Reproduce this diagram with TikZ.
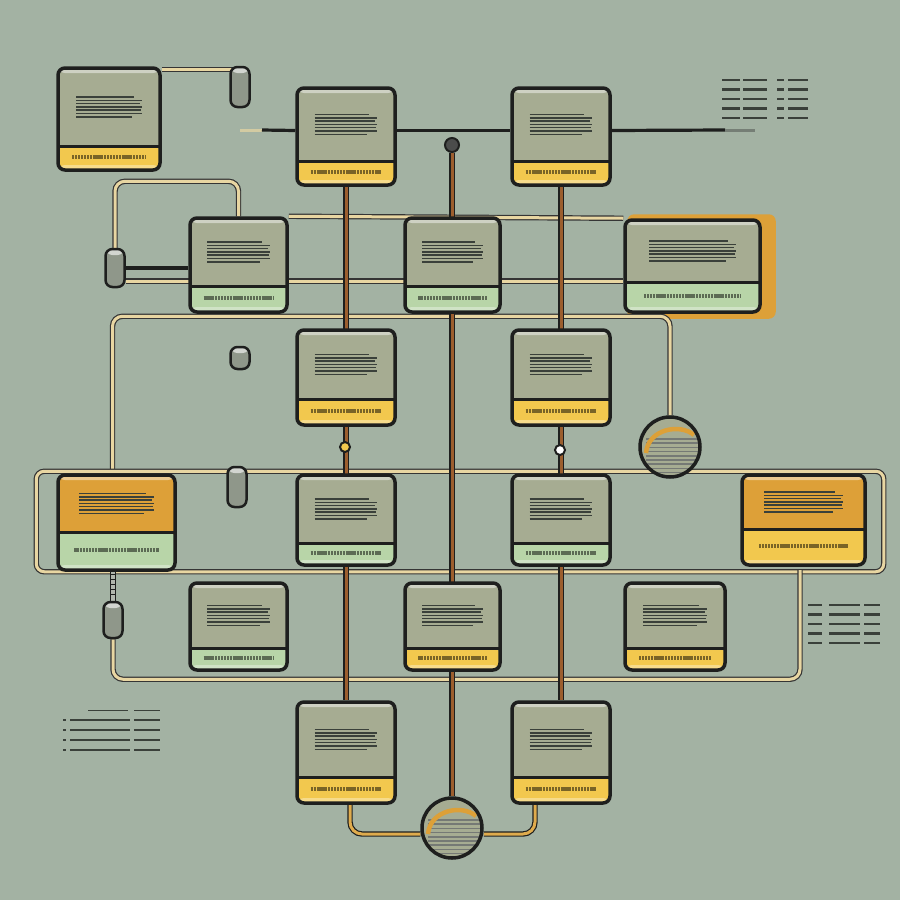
\documentclass[tikz,border=0pt]{standalone}
\usetikzlibrary{calc}

\definecolor{bgsage}{HTML}{A3B2A3}
\definecolor{cardbody}{HTML}{A6AC92}
\definecolor{cardedge}{HTML}{1E1F1E}
\definecolor{footyellow}{HTML}{F2C84E}
\definecolor{footgreen}{HTML}{B8D5A8}
\definecolor{toporange}{HTML}{DDA038}
\definecolor{wiretan}{HTML}{E8D6A2}
\definecolor{wirebrown}{HTML}{9C5E2E}
\definecolor{inkline}{HTML}{3A403A}
\definecolor{plugrey}{HTML}{8F978A}

\pgfdeclarelayer{bg}
\pgfdeclarelayer{wires}
\pgfsetlayers{bg,wires,main}

% name, x, y, width, height, body colour, footer colour, footer height
\newcommand{\card}[8]{%
  \node[card, fill=#6, minimum width=#4pt, minimum height=#5pt,
    path picture={
      \begin{scope}[shift={(path picture bounding box.center)}]
        \fill[#7] (-#4/2,#5/2) rectangle (#4/2,#5/2-#8);
        \fill[white, opacity=0.35] (-#4/2,#5/2-5) rectangle (#4/2,#5/2);
        \fill[white, opacity=0.45] (-#4/2,-#5/2) rectangle (#4/2,-#5/2+5);
        \draw[cardedge, line width=3pt] (-#4/2,#5/2-#8) -- (#4/2,#5/2-#8);
        \foreach \k/\cut in {0/8,1/0,2/2,3/0,4/1,5/0,6/10}
          \draw[inkline, line width=1.5pt] (-0.32*#4,-#8/2-10+3.3*\k) -- (0.32*#4-\cut,-#8/2-10+3.3*\k);
        \draw[#7!50!black, line width=3.4pt, dash pattern=on 2.2pt off 0.7pt]
          (-0.36*#4,#5/2-#8/2-1) -- (0.36*#4,#5/2-#8/2-1);
      \end{scope}}] (#1) at (#2,#3) {};}

\begin{document}
\begin{tikzpicture}[x=1pt,y=-1pt,
    card/.style={draw=cardedge, line width=3.5pt, rounded corners=7pt, inner sep=0pt},
    plug/.style={draw=cardedge, line width=2.5pt, fill=plugrey, rounded corners=7pt,
      minimum width=19pt, inner sep=0pt,
      path picture={\fill[white, opacity=0.6] (path picture bounding box.north west)
        rectangle ($(path picture bounding box.north east)+(0,6)$);}},
    bead/.style={circle, draw=cardedge, line width=2pt, minimum size=10pt, inner sep=0pt},
    gauge/.style={circle, draw=cardedge, line width=3.5pt, fill=cardbody, minimum size=60pt, inner sep=0pt,
      path picture={
        \begin{scope}[shift={(path picture bounding box.center)}]
          \foreach \k in {0,...,8}
            \draw[inkline!70, line width=1.5pt] (-24,-8+4.2*\k) -- (28,-8+4.2*\k);
          \draw[toporange, line width=4.5pt] (-24,6) .. controls (-22,-18) and (10,-24) .. (24,-12);
        \end{scope}}},
    wire/.style={draw=cardedge!90, double=wiretan, double distance=3pt, line width=1.2pt},
    owire/.style={draw=cardedge, double=toporange!80!wiretan, double distance=3pt, line width=1.2pt},
    rail/.style={draw=cardedge, double=wirebrown, double distance=3pt, line width=1.2pt},
    darkline/.style={draw=cardedge, line width=3.2pt},
    legendline/.style={inkline, line width=2.6pt}]
\useasboundingbox (0,0) rectangle (900,900);
\begin{pgfonlayer}{bg}
  \fill[bgsage] (0,0) rectangle (900,900);
\end{pgfonlayer}
%\draw [help lines] (0,0) grid[step=50] (900,900);

% cards
\card{a1}{109}{119}{102}{102}{cardbody}{footyellow}{24}
\card{a2}{346}{136.5}{98}{97}{cardbody}{footyellow}{24}
\card{a3}{561}{136.5}{98}{97}{cardbody}{footyellow}{24}
\card{b1}{238.5}{265}{97}{94}{cardbody}{footgreen}{26}
\card{b2}{452.5}{265}{95}{94}{cardbody}{footgreen}{26}
\card{b3}{692.5}{266}{135}{92}{cardbody}{footgreen}{30}
\card{c1}{346}{377.5}{98}{95}{cardbody}{footyellow}{26}
\card{c2}{561}{377.5}{98}{95}{cardbody}{footyellow}{26}
\card{d1}{116.5}{522.5}{117}{95}{toporange}{footgreen}{38}
\card{d2}{346}{520}{98}{90}{cardbody}{footgreen}{22}
\card{d3}{561}{520}{98}{90}{cardbody}{footgreen}{22}
\card{d4}{803.5}{520}{123}{90}{toporange}{footyellow}{36}
\card{e1}{238.5}{626.5}{97}{87}{cardbody}{footgreen}{22}
\card{e2}{452.5}{626.5}{95}{87}{cardbody}{footyellow}{22}
\card{e3}{675}{626.5}{100}{87}{cardbody}{footyellow}{22}
\card{f1}{346}{752.5}{98}{101}{cardbody}{footyellow}{26}
\card{f2}{561}{752.5}{98}{101}{cardbody}{footyellow}{26}

% plugs, gauges, beads
\node[plug, minimum height=40pt] (p1) at (240,87) {};
\node[plug, minimum height=38pt] (p2) at (115,268) {};
\node[plug, minimum height=22pt] (p3) at (240,358) {};
\node[plug, minimum height=40pt] (p4) at (237,487) {};
\node[plug, minimum height=36pt] (p5) at (113,620) {};
\node[gauge] (k1) at (670,447) {};
\node[gauge] (k2) at (452,828) {};
\node[bead, fill=cardedge!80, minimum size=14pt] (btop) at (452,145) {};
\node[bead, fill=footyellow] (bleft) at (345,447) {};
\node[bead, fill=white] (bright) at (560,450) {};
\coordinate (fadeL) at (262,130);
\coordinate (fadeR) at (725,130);
\coordinate (loopR) at (800,570);

\begin{pgfonlayer}{wires}
  % top bus
  \draw[wire] ([yshift=-4pt]a1.east |- p1.north) -- ([yshift=-4pt]p1.north);
  \draw[wiretan!70!bgsage, line width=3pt] ($(fadeL)+(-22,0)$) -- (fadeL);
  \draw[darkline] (fadeL) -- ([yshift=6pt]a2.west);
  \draw[darkline] ([yshift=6pt]a2.east) -- ([yshift=6pt]a3.west);
  \draw[darkline] ([yshift=6pt]a3.east) -- (fadeR);
  \draw[cardedge!35!bgsage, line width=3pt] (fadeR) -- ++(30,0);
  % row two
  \draw[wire, rounded corners=10pt] (b1.north) -- ++(0,-35) -| (p2.north);
  \draw[darkline] (p2.east) -- (p2.east -| b1.west);
  \draw[wire] ([yshift=-13pt]p2.east) -- ([yshift=-13pt]p2.east -| b3.west);
  \draw[wire] (b1.north east) -- (b3.north west);
  \fill[toporange, rounded corners=7pt] ($(b3.north west)+(4,-4)$) rectangle ($(b3.south east)+(14,5)$);
  % big loop
  \draw[wire, rounded corners=10pt] ([xshift=-4pt]d1.north) |- ($(k1.north)+(0,-99)$) -- (k1.north);
  % middle frame
  \draw[wire, rounded corners=8pt] ($(d1.north west)+(-20,-2)$) rectangle ($(d4.south east)+(17,5)$);
  % lower loop
  \draw[draw=cardedge, double=plugrey!70!white, double distance=4pt, line width=1.2pt] (p5.north) -- ++(0,-30);
  \foreach \t in {0,...,4}
    \draw[cardedge, line width=0.8pt] ($(p5.north)+(-3,-6-5*\t)$) -- ++(6,0);
  \draw[wire, rounded corners=10pt] (p5.south) -- ++(0,40) -| (loopR);
  % rails
  \draw[rail] (a2.south) -- (f1.north);
  \draw[rail] (a3.south) -- (f2.north);
  \draw[rail] (btop) -- (k2);
  % bottom
  \draw[owire, rounded corners=12pt] ([xshift=4pt]f1.south) |- ([yshift=-6pt]k2.west);
  \draw[owire, rounded corners=12pt] ([xshift=-26pt]f2.south) |- ([yshift=-6pt]k2.east);
\end{pgfonlayer}

% legends
\foreach \r in {0,...,4} {
  \draw[legendline] (722,80+9.5*\r) -- ++(18,0);
  \draw[legendline] (743,80+9.5*\r) -- ++(24,0);
  \draw[legendline] (777,80+9.5*\r) -- ++(7,0);
  \draw[legendline] (788,80+9.5*\r) -- ++(20,0);
}
\foreach \r in {0,...,4} {
  \draw[legendline] (808,605+9.5*\r) -- ++(14,0);
  \draw[legendline] (829,605+9.5*\r) -- ++(31,0);
  \draw[legendline] (864,605+9.5*\r) -- ++(16,0);
}
\draw[legendline, line width=1pt] (88,710) -- ++(40,0);
\draw[legendline, line width=1pt] (134,710) -- ++(26,0);
\foreach \r in {0,...,3} {
  \draw[legendline, line width=1.2pt] (63,720+10*\r) -- ++(3,0);
  \draw[legendline] (70,720+10*\r) -- ++(60,0);
  \draw[legendline] (134,720+10*\r) -- ++(26,0);
}
\end{tikzpicture}
\end{document}
